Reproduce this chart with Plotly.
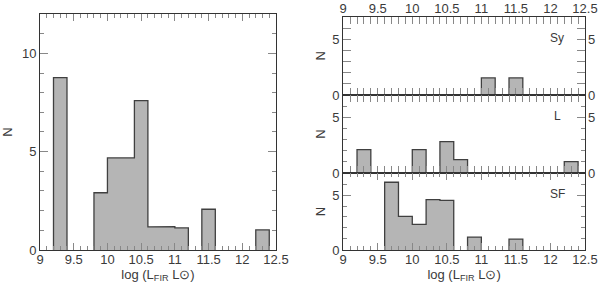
import plotly.graph_objects as go

# Bin centres (width 0.2 in log L_FIR)
all_x = [9.3, 9.9, 10.1, 10.3, 10.5, 10.7, 10.9, 11.1, 11.5, 12.3]
all_n = [8.76, 2.91, 4.68, 4.68, 7.59, 1.17, 1.18, 1.12, 2.07, 1.02]

sy_x = [11.1, 11.5]
sy_n = [1.53, 1.53]

l_x = [9.3, 10.1, 10.5, 10.7, 12.3]
l_n = [2.1, 2.1, 2.82, 1.2, 1.02]

sf_x = [9.7, 9.9, 10.1, 10.3, 10.5, 10.9, 11.5]
sf_n = [6.16, 3.05, 2.33, 4.58, 4.52, 1.17, 0.99]

x_ticks = [9, 9.5, 10, 10.5, 11, 11.5, 12, 12.5]
x_labels = ["9", "9.5", "10", "10.5", "11", "11.5", "12", "12.5"]
panel_labels = ["Sy", "L", "SF"]

BIN_W = 0.2
FILL = "#b5b5b5"
EDGE = "#404040"
FONT = dict(family="Liberation Sans, Arial, sans-serif", size=13, color="#3a3a3a")

fig = go.Figure()


def step_outline(x, y):
    """Outline of the histogram from the bin centres/heights."""
    xs, ys = [], []
    pairs = sorted(zip(x, y))
    prev_right = None
    prev_h = 0.0
    for c, h in pairs:
        left, right = round(c - BIN_W / 2, 3), round(c + BIN_W / 2, 3)
        if prev_right is None or abs(left - prev_right) > 1e-6:
            if prev_right is not None:
                xs += [prev_right, prev_right, None]
                ys += [prev_h, 0, None]
            xs += [left, left]
            ys += [0, h]
        else:
            xs += [left, left]
            ys += [prev_h, h]
        xs += [right]
        ys += [h]
        prev_right, prev_h = right, h
    xs += [prev_right, prev_right]
    ys += [prev_h, 0]
    return xs, ys


def bars(x, y, xa, ya):
    fig.add_trace(go.Bar(x=x, y=y, width=BIN_W, xaxis=xa, yaxis=ya,
                         marker=dict(color=FILL, line=dict(width=0)),
                         showlegend=False, hoverinfo="skip"))
    sx, sy = step_outline(x, y)
    fig.add_trace(go.Scatter(x=sx, y=sy, xaxis=xa, yaxis=ya, mode="lines",
                             line=dict(color=EDGE, width=1.3), showlegend=False,
                             hoverinfo="skip"))


bars(all_x, all_n, "x", "y")
bars(sy_x, sy_n, "x2", "y2")
bars(l_x, l_n, "x3", "y3")
bars(sf_x, sf_n, "x4", "y4")

# invisible helper traces for extra label axes
for xa, ya in [("x5", "y2"), ("x2", "y5"), ("x3", "y6")]:
    fig.add_trace(go.Scatter(x=[9], y=[0], xaxis=xa, yaxis=ya, mode="markers",
                             marker=dict(opacity=0, size=1), showlegend=False,
                             hoverinfo="skip"))

xbase = dict(range=[9, 12.5], tickvals=x_ticks, ticktext=x_labels, ticks="inside",
             ticklen=7, tickcolor="#888", tickwidth=1, showline=True, linecolor="#333",
             linewidth=1, showgrid=False, zeroline=False, mirror="allticks",
             automargin=False, ticklabelstandoff=-3,
             minor=dict(dtick=0.1, tick0=9, ticks="inside", ticklen=4, tickcolor="#888",
                        showgrid=False),
             tickfont=FONT)

ybase = dict(ticks="inside", tickcolor="#888", tickwidth=1, showline=True,
             linecolor="#333", linewidth=1, showgrid=False, zeroline=False,
             mirror="allticks", tickfont=FONT, automargin=False)

L_DOM = [0.0667, 0.46]
R_DOM = [0.572, 0.975]
Y_BOT, Y_TOP = 0.126, 0.951
SY = [0.668, 0.941]
LL = [0.395, 0.668]
SF = [0.126, 0.395]

XTITLE = "log (L<sub>FIR</sub> L⊙)"

layout = dict(
    width=600, height=286, margin=dict(l=0, r=0, t=0, b=0, autoexpand=False),
    paper_bgcolor="white", plot_bgcolor="rgba(0,0,0,0)", bargap=0, font=FONT,
    xaxis=dict(xbase, domain=L_DOM, anchor="y",
               title=dict(text=XTITLE, font=FONT, standoff=0)),
    yaxis=dict(ybase, domain=[Y_BOT, Y_TOP], anchor="x", range=[0, 12],
               tickvals=[0, 5, 10], ticklen=8,
               minor=dict(dtick=1, tick0=0, ticks="inside", ticklen=4, tickcolor="#888"),
               title=dict(text="N", font=FONT, standoff=12)),
    xaxis2=dict(xbase, domain=R_DOM, anchor="y2", showticklabels=False),
    xaxis3=dict(xbase, domain=R_DOM, anchor="y3", showticklabels=False),
    xaxis4=dict(xbase, domain=R_DOM, anchor="y4",
                title=dict(text=XTITLE, font=FONT, standoff=0)),
    xaxis5=dict(range=[9, 12.5], tickvals=x_ticks, ticktext=x_labels, overlaying="x2",
                side="top", anchor="y2", ticks="", showline=False, showgrid=False,
                zeroline=False, tickfont=FONT, automargin=False),
)
ymini = dict(dtick=1, tick0=0, ticks="inside", ticklen=4, tickcolor="#888")
for i, dom in zip([2, 3, 4], [SY, LL, SF]):
    layout[f"yaxis{i}"] = dict(ybase, domain=dom, anchor=f"x{i}", range=[0, 7],
                               tickvals=[0, 5], ticklen=8, minor=ymini,
                               title=dict(text="N", font=FONT, standoff=3))
for name, dom, anc in [("yaxis5", SY, "x2"), ("yaxis6", LL, "x3")]:
    layout[name] = dict(range=[0, 7], tickvals=[0, 5], domain=dom, side="right",
                        anchor=anc, ticks="", showline=False, showgrid=False,
                        zeroline=False, tickfont=FONT, automargin=False,
                        ticklabelstandoff=2)

fig.update_layout(**layout)

for lab, xr, yr in zip(panel_labels, ["x2", "x3", "x4"], ["y2", "y3", "y4"]):
    fig.add_annotation(text=lab, x=12.1, y=5.1, xref=xr, yref=yr, showarrow=False,
                       font=dict(FONT, size=12), xanchor="center", yanchor="middle")

fig.write_html("out.html", config={"displayModeBar": False},
               post_script="document.body.style.margin='0';document.body.style.overflow='hidden';")
